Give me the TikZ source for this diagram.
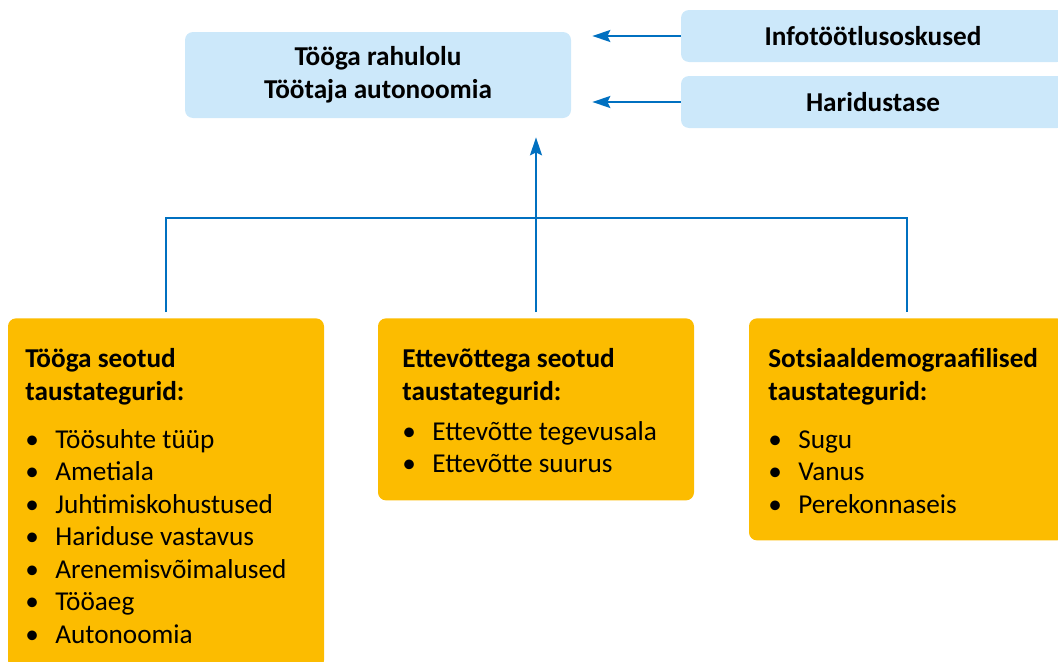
\documentclass[tikz,border=0pt]{standalone}
\usepackage{fontspec}
\setmainfont{Carlito}
\usetikzlibrary{arrows.meta,positioning}

\definecolor{paleblue}{RGB}{204,232,250}
\definecolor{amber}{RGB}{252,188,0}
\definecolor{lineblue}{RGB}{0,112,192}

\tikzset{
  bluebox/.style={fill=paleblue, rounded corners=0.16cm, inner sep=0pt, align=center,
    font=\bfseries\fontsize{15.5}{18.7}\selectfont},
  amberbox/.style={fill=amber, rounded corners=0.16cm, minimum width=6.32cm, anchor=north},
  heading/.style={anchor=base west, inner sep=0pt, align=left,
    font=\bfseries\fontsize{15.5}{18.7}\selectfont},
  entry/.style={anchor=base west, inner sep=0pt, font=\fontsize{15.5}{18.7}\selectfont},
  link/.style={draw=lineblue, line width=1.1pt},
  tip/.style={-{Stealth[length=0.36cm,width=0.24cm,inset=0.06cm]}}
}
\newcommand{\bul}[1]{\makebox[0.6cm][l]{\textbullet}#1}

\begin{document}
\begin{tikzpicture}
  \useasboundingbox (0,0) rectangle (21.16,-13.22);

  % outcome and extra factors
  \node [bluebox, minimum width=7.72cm, minimum height=1.72cm] (outcome) at (7.56,-1.5)
    {Tööga rahulolu\\Töötaja autonoomia};
  \node [bluebox, minimum width=7.68cm, minimum height=1.04cm] (info) at (17.46,-0.72) {Infotöötlusoskused};
  \node [bluebox, minimum width=7.68cm, minimum height=1.04cm] (edu) at (17.46,-2.04) {Haridustase};

  % background factor groups
  \node [amberbox, minimum height=7cm] (work) at (3.32,-6.36) {};
  \node [amberbox, minimum height=3.64cm] (firm) at (10.72,-6.36) {};
  \node [amberbox, minimum height=4.44cm] (social) at (18.14,-6.36) {};

  \node [heading] (workhead) at (0.5,-8.0) {Tööga seotud\\taustategurid:};
  \foreach \txt [count=\i] in {Töösuhte tüüp, Ametiala, Juhtimiskohustused, Hariduse vastavus,
      Arenemisvõimalused, Tööaeg, Autonoomia}{
    \node [entry] (work\i) at (0.5,{-8.96-(\i-1)*0.65}) {\bul{\txt}};
  }

  \node [heading] (firmhead) at (8.04,-8.0) {Ettevõttega seotud\\taustategurid:};
  \foreach \txt [count=\i] in {Ettevõtte tegevusala, Ettevõtte suurus}{
    \node [entry] (firm\i) at (8.04,{-8.8-(\i-1)*0.65}) {\bul{\txt}};
  }

  \node [heading] (socialhead) at (15.36,-8.0) {Sotsiaaldemograafilised\\taustategurid:};
  \foreach \txt [count=\i] in {Sugu, Vanus, Perekonnaseis}{
    \node [entry] (social\i) at (15.36,{-8.96-(\i-1)*0.65}) {\bul{\txt}};
  }

  % connectors
  \coordinate (hub) at (10.74,-4.36);
  \draw [link] ([yshift=0.12cm]work.north) |- (hub) -| ([yshift=0.12cm]social.north);
  \draw [link, tip, shorten >=0.38cm] ([yshift=0.12cm]firm.north) -- (firm.north |- outcome.south);
  \draw [link, tip, shorten >=0.42cm] (info.west) -- (info.west -| outcome.east);
  \draw [link, tip, shorten >=0.42cm] (edu.west) -- (edu.west -| outcome.east);
\end{tikzpicture}
\end{document}
